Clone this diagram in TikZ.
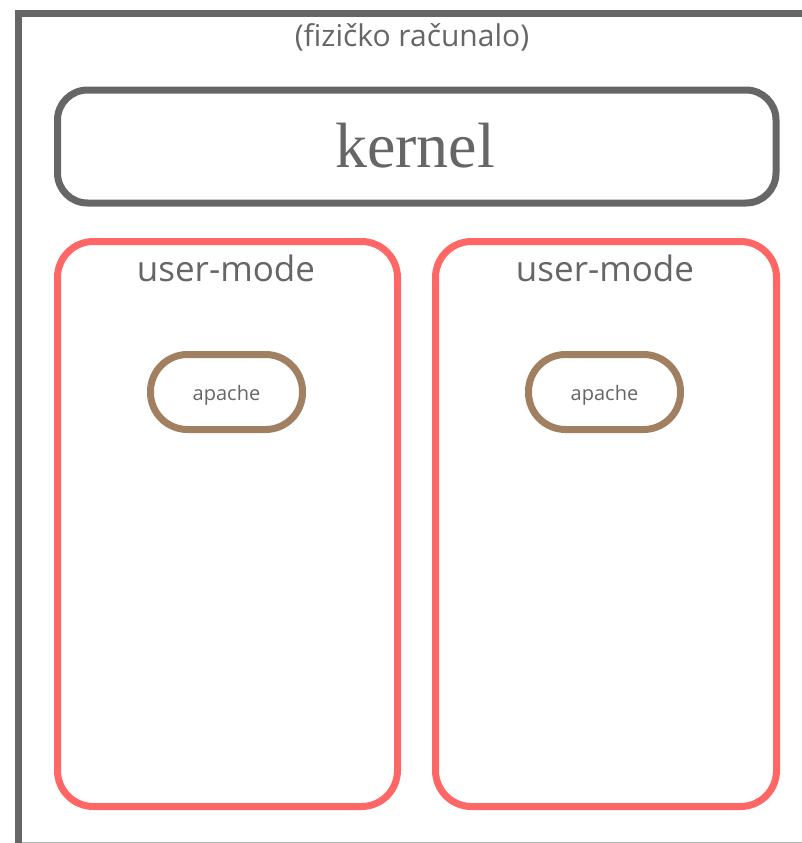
\documentclass[tikz,border=0pt]{standalone}
\usepackage{fontspec}
\setmainfont{Open Sans}
\newfontfamily\kernelfont{Liberation Serif}
\definecolor{framegray}{HTML}{666666}
\definecolor{modered}{HTML}{FF6666}
\definecolor{procbrown}{HTML}{A08060}
\begin{document}
\begin{tikzpicture}[x=1pt,y=-1pt,
  kernelbox/.style={draw=framegray,line width=7pt,rounded corners=30pt},
  modebox/.style={draw=modered,line width=7pt,rounded corners=36pt},
  procbox/.style={draw=procbrown,line width=7pt,rounded corners=37pt},
  label/.style={text=framegray,inner sep=0pt,anchor=base}]
\useasboundingbox (0,0) rectangle (802,843);
\fill[white] (0,0) rectangle (802,843);
% physical machine frame, running off the right edge
\begin{scope}
\clip (0,0) rectangle (802,843);
\draw[black!30,line width=1pt] (22,842) -- (810,842);
\draw[framegray,line width=7pt] (18.5,850) -- (18.5,14) -- (815,14);
\end{scope}
\node[label,font=\fontsize{30}{36}\selectfont] (host) at (412,47) {(fizičko računalo)};
% kernel
\draw[kernelbox] (57.5,90) rectangle (776,203);
\node[label,font=\kernelfont\fontsize{64}{72}\selectfont] (kernel) at (415,167) {kernel};
% user-mode boxes
\draw[modebox] (57.5,241.5) rectangle (397.5,806.5);
\draw[modebox] (435.5,241.5) rectangle (776.5,806.5);
\node[label,font=\fontsize{35}{42}\selectfont] (um1) at (226,281) {user-mode};
\node[label,font=\fontsize{35}{42}\selectfont] (um2) at (605,281) {user-mode};
% apache processes
\draw[procbox] (150.5,354.5) rectangle (302.5,429.5);
\draw[procbox] (528.5,354.5) rectangle (680.5,429.5);
\node[label,font=\fontsize{20}{24}\selectfont] (ap1) at (226.5,400) {apache};
\node[label,font=\fontsize{20}{24}\selectfont] (ap2) at (604.5,400) {apache};
\end{tikzpicture}
\end{document}
